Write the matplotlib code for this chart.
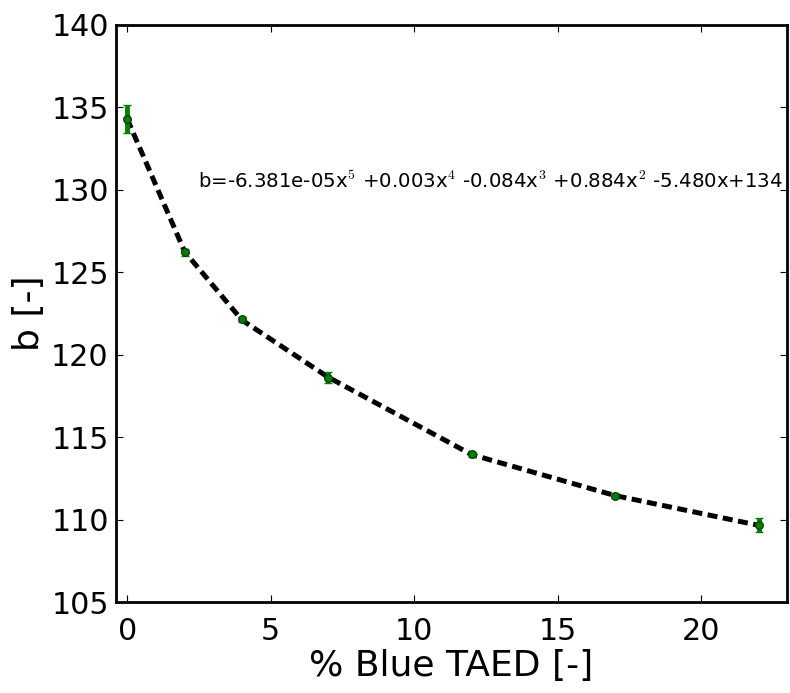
import numpy as np
import matplotlib
matplotlib.use("Agg")
import matplotlib.pyplot as plt

plt.rcParams['mathtext.fontset'] = 'cm'
plt.rcParams['font.family'] = ['DejaVu Sans']

x_vals = [0, 2, 4, 7, 12, 17, 22]
b_vals = [134.3, 126.2, 122.15, 118.6, 113.95, 111.45, 109.65]
b_err = [0.85, 0.2, 0.15, 0.35, 0.15, 0.15, 0.42]
x_ticks = [0, 5, 10, 15, 20]
y_ticks = [105, 110, 115, 120, 125, 130, 135, 140]
eq_text = ("b=-6.381e-05x$^{5}$ +0.003x$^{4}$ -0.084x$^{3}$ "
           "+0.884x$^{2}$ -5.480x+134")

fig = plt.figure(figsize=(7.9, 6.93), dpi=100)
ax = fig.add_axes([0.1465, 0.1313, 0.85, 0.833])

coef = np.polyfit(x_vals, b_vals, 5)
ax.plot(x_vals, np.polyval(coef, x_vals), color='black', lw=3.6,
        linestyle=(0, (2.0, 1.1)), zorder=2)

ax.errorbar(x_vals, b_vals, yerr=b_err, fmt='o', color='green',
            markersize=5.5, markeredgecolor='#114411', markeredgewidth=1,
            ecolor='green', elinewidth=3.5, capsize=3, capthick=2, zorder=3)

ax.text(2.45, 130.5, eq_text, fontsize=14.2, va='center', ha='left')

ax.set_xlim(-0.4, 23)
ax.set_ylim(105, 140)
ax.set_xticks(x_ticks)
ax.set_yticks(y_ticks)
ax.tick_params(direction='in', top=True, right=True, labelsize=21.7,
               length=5, width=0.8)
ax.tick_params(axis='x', pad=11)
ax.tick_params(axis='y', pad=5)
for s in ax.spines.values():
    s.set_linewidth(2)
ax.set_xlabel('% Blue TAED [-]', fontsize=26, labelpad=2)
ax.set_ylabel('b [-]', fontsize=26, labelpad=4)

fig.savefig('out.png', dpi=100)
